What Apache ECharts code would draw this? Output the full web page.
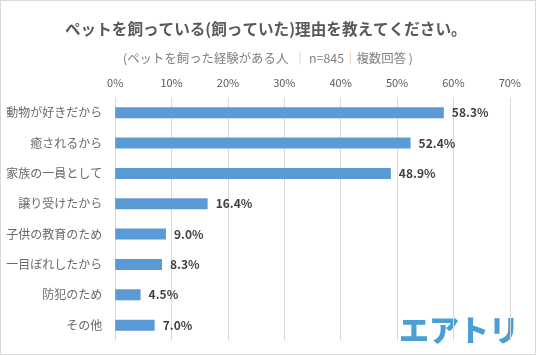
<!DOCTYPE html>
<html><head><meta charset="utf-8">
<script src="https://cdn.jsdelivr.net/npm/echarts@6/dist/echarts.min.js"></script>
<style>html,body{margin:0;padding:0;background:#fff}#c{width:536px;height:355px;box-sizing:border-box;border:1.5px solid #D9D9D9}</style>
</head><body><div id="c"></div>
<script>
const categories = ['動物が好きだから','癒されるから','家族の一員として','譲り受けたから','子供の教育のため','一目ぼれしたから','防犯のため','その他'];
const values = [58.3, 52.4, 48.9, 16.4, 9.0, 8.3, 4.5, 7.0];
const tickMin = 0, tickMax = 70, tickStep = 10;
const FONT = '"Noto Sans CJK JP", "Noto Sans", sans-serif';
const chart = echarts.init(document.getElementById('c'));
chart.setOption({
  animation: false,
  title: [{
    text: 'ペットを飼っている(飼っていた)理由を教えてください。',
    left: 59, top: 15,
    textStyle: {fontFamily: FONT, fontSize: 15.6, fontWeight: 'bold', color: '#595959'}
  }, {
    text: '(ペットを飼った経験がある人 {s| ｜ }n=845{s|｜}複数回答 )',
    left: 'center', top: 46,
    textStyle: {fontFamily: FONT, fontSize: 12.4, fontWeight: 'normal', color: '#7F7F7F',
      rich: {s: {fontFamily: FONT, fontSize: 12.4, fontWeight: 'normal', color: '#F4B183'}}}
  }],
  grid: {left: 114.2, top: 96.6, width: 394.6, height: 242.7, containLabel: false},
  xAxis: {
    type: 'value', position: 'top', min: tickMin, max: tickMax, interval: tickStep,
    axisLine: {show: false}, axisTick: {show: false},
    splitLine: {lineStyle: {color: '#D9D9D9', width: 1}},
    axisLabel: {formatter: '{value}%', fontFamily: FONT, fontSize: 11, color: '#595959', margin: 9}
  },
  yAxis: {
    type: 'category', data: categories, inverse: true,
    axisLine: {show: false}, axisTick: {show: false},
    axisLabel: {fontFamily: FONT, fontSize: 12, color: '#6A6A6A', margin: 13}
  },
  series: [{
    type: 'bar', data: values, barWidth: 11,
    itemStyle: {color: '#5B9BD5'},
    label: {show: true, position: 'right', distance: 8,
      formatter: p => p.value.toFixed(1) + '%',
      fontFamily: FONT, fontSize: 12, fontWeight: 'bold', color: '#404040'}
  }],
  graphic: [{
    type: 'text', right: 16, bottom: 9,
    style: {text: 'エアトリ', fontFamily: FONT, fontSize: 30, fontWeight: 900, fill: '#4A9FD4'}
  }]
});
</script></body></html>
